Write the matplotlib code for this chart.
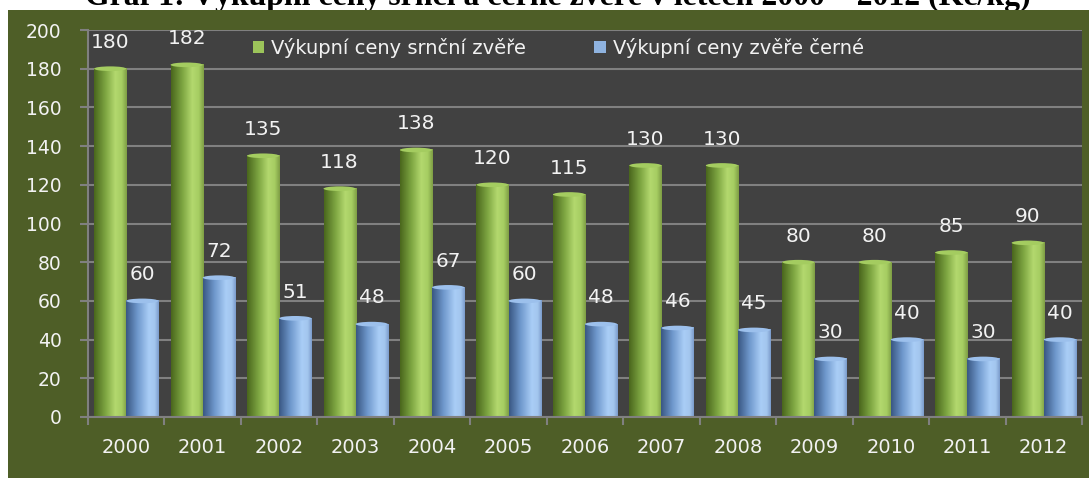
import numpy as np
import matplotlib
matplotlib.use("Agg")
import matplotlib.pyplot as plt
from matplotlib.patches import Rectangle, Ellipse, Patch
from matplotlib.colors import LinearSegmentedColormap

# ---- data ----
years = ["2000", "2001", "2002", "2003", "2004", "2005", "2006",
         "2007", "2008", "2009", "2010", "2011", "2012"]
roe_deer = [180, 182, 135, 118, 138, 120, 115, 130, 130, 80, 80, 85, 90]
wild_boar = [60, 72, 51, 48, 67, 60, 48, 46, 45, 30, 40, 30, 40]
series_names = ["Výkupní ceny srnční zvěře", "Výkupní ceny zvěře černé"]
title_text = "Graf 1: Výkupní ceny srnčí a černé zvěře v letech 2000 – 2012 (Kč/kg)"
yticks = [0, 20, 40, 60, 80, 100, 120, 140, 160, 180, 200]

W, H = 1089, 478
DPI = 100
fig = plt.figure(figsize=(W / DPI, H / DPI), dpi=DPI)
fig.patch.set_facecolor("white")

BG_GREEN = "#4e5e27"
PLOT_BG = "#414141"
GRID = "#808080"
TXT = "#f2f2f2"

# title (clipped at top of the image, as in the source)
t = fig.text(85 / W, 1 - 5 / H, title_text, family="Liberation Serif",
             weight="bold", fontsize=20, va="baseline", ha="left", color="black",
             zorder=-10)
r = fig.canvas.get_renderer()
w0 = t.get_window_extent(r).width
t.set_fontsize(20 * 945 / w0)

# green frame background
fig.patches.append(Rectangle((8 / W, 0), 1 - 8 / W, 1 - 10 / H,
                             transform=fig.transFigure, facecolor=BG_GREEN,
                             edgecolor="none", zorder=-5))

left, right = 88 / W, 1082 / W
bottom, top = 1 - 417 / H, 1 - 30 / H
ax = fig.add_axes([left, bottom, right - left, top - bottom])
ax.set_zorder(2)
ax.set_facecolor(PLOT_BG)

x = np.arange(len(years))
bw = 0.42
green_cmap = LinearSegmentedColormap.from_list(
    "g", [(0, "#4a671d"), (0.35, "#7ea642"), (0.65, "#b3d86e"), (0.85, "#a6cd62"), (1.0, "#7f9f45")])
blue_cmap = LinearSegmentedColormap.from_list(
    "b", [(0, "#3a5884"), (0.35, "#6f98cc"), (0.7, "#a9cdf6"), (0.88, "#a3c6ee"), (1.0, "#7c9ccc")])

bars_g = ax.bar(x - bw / 2, roe_deer, width=bw, color="none", zorder=2)
bars_b = ax.bar(x + bw / 2, wild_boar, width=bw, color="none", zorder=2)

grad = np.linspace(0, 1, 64).reshape(1, -1)
cap_h = 2.4
for bars, cmap, capc in ((bars_g, green_cmap, "#a4cc60"), (bars_b, blue_cmap, "#9cc0ec")):
    for rect in bars:
        x0, wdt, h = rect.get_x(), rect.get_width(), rect.get_height()
        ax.imshow(grad, cmap=cmap, extent=[x0, x0 + wdt, 0, h], aspect="auto",
                  zorder=2, interpolation="bilinear")
        ax.add_patch(Ellipse((x0 + wdt / 2, h), wdt, cap_h, facecolor=capc,
                             edgecolor="none", zorder=3))
        ax.annotate(f"{int(h)}", (x0 + wdt / 2, h), xytext=(0, 12),
                    textcoords="offset points", ha="center", va="bottom",
                    color=TXT, fontsize=14.5, family="DejaVu Sans", zorder=4)

ax.set_xlim(-0.5, len(years) - 0.5)
ax.set_ylim(0, 200)
ax.set_yticks(yticks)
ax.set_yticklabels([str(v) for v in yticks])
ax.yaxis.grid(True, color=GRID, linewidth=1.5, zorder=1)
ax.set_axisbelow(True)

ax.set_xticks(x)
ax.set_xticklabels(years)
ax.set_xticks(np.arange(len(years) + 1) - 0.5, minor=True)
ax.tick_params(axis="x", which="major", length=0, pad=15, labelsize=14, labelcolor=TXT)
ax.tick_params(axis="x", which="minor", length=6, width=1.5, color=GRID, direction="out")
ax.tick_params(axis="y", which="major", length=6, width=1.5, color=GRID, pad=13,
               labelsize=13.5, labelcolor=TXT)

for s in ("top", "right"):
    ax.spines[s].set_visible(False)
for s in ("left", "bottom"):
    ax.spines[s].set_color(GRID)
    ax.spines[s].set_linewidth(1.5)

handles = [Patch(facecolor="#9cc45a", edgecolor="none"),
           Patch(facecolor="#8fb3e0", edgecolor="none")]
leg = ax.legend(handles, series_names, ncol=2, loc="upper left",
                bbox_to_anchor=((243 - 88) / (1082 - 88), 1.005),
                frameon=False, fontsize=14, labelcolor=TXT,
                handlelength=0.6, handleheight=0.6, handletextpad=0.35,
                columnspacing=3.5, borderaxespad=0.1)

fig.savefig("out.png", dpi=DPI, facecolor=fig.get_facecolor())
